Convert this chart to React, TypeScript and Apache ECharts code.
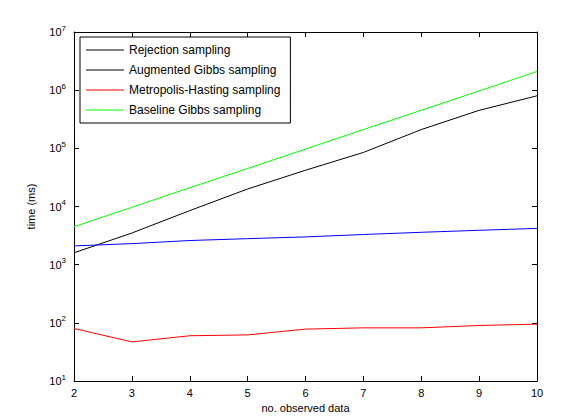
import React, { useEffect, useRef } from "react";
import * as echarts from "echarts";

const xCats = [2, 3, 4, 5, 6, 7, 8, 9, 10];
const rejection = [1600, 3500, 8500, 20000, 42000, 85000, 210000, 450000, 800000];
const augmented = [2100, 2300, 2600, 2800, 3000, 3300, 3600, 3900, 4200];
const metropolis = [80, 47, 60, 62, 78, 82, 82, 90, 95];
const baseline = [4500, 9700, 21000, 45000, 97000, 210000, 450000, 970000, 2100000];
const names = ["Rejection sampling", "Augmented Gibbs sampling", "Metropolis-Hasting sampling", "Baseline Gibbs sampling"];
const colors = ["#000000", "#0000ff", "#ff0000", "#00ff00"];
const legendColors = ["#000000", "#000000", "#ff0000", "#00ff00"];

const font = "Liberation Sans, Arial, sans-serif";

export default function App() {
  const ref = useRef<HTMLDivElement>(null);
  useEffect(() => {
    const chart = echarts.init(ref.current!, undefined, { renderer: "svg" });
    const datas = [rejection, augmented, metropolis, baseline];
    const axisCommon = {
      axisLine: { lineStyle: { color: "#000" } },
      axisTick: { inside: true, length: 5, lineStyle: { color: "#000" } },
      splitLine: { show: false },
    };
    const yLabel = (v: number) => "10{s|" + Math.round(Math.log10(v)) + "}";
    chart.setOption({
      animation: false,
      backgroundColor: "#fff",
      textStyle: { fontFamily: font },
      grid: { left: 74, right: 24, top: 32, bottom: 39 },
      legend: {
        left: 80, top: 37, orient: "vertical",
        backgroundColor: "#fff", borderColor: "#000", borderWidth: 1,
        padding: [6, 10, 6, 6], itemGap: 6, itemWidth: 38, itemHeight: 1,
        icon: "rect",
        textStyle: { fontSize: 12, color: "#000", fontFamily: font, lineHeight: 14 },
        data: names.map((n, i) => ({ name: n, itemStyle: { color: legendColors[i] }, lineStyle: { color: legendColors[i] } })),
      },
      xAxis: [
        {
          type: "value", min: 2, max: 10, interval: 1, ...axisCommon,
          name: "no. observed data", nameLocation: "middle", nameGap: 20,
          nameTextStyle: { fontSize: 11, color: "#000" },
          axisLabel: { fontSize: 11, color: "#000", margin: 6 },
        },
        { type: "value", min: 2, max: 10, interval: 1, position: "top", ...axisCommon, axisLabel: { show: false } },
      ],
      yAxis: [
        {
          type: "log", logBase: 10, min: 10, max: 1e7, ...axisCommon,
          name: "time (ms)", nameLocation: "middle", nameGap: 38,
          nameTextStyle: { fontSize: 11, color: "#000" },
          axisLabel: { formatter: yLabel, fontSize: 11, color: "#000", rich: { s: { fontSize: 8, verticalAlign: "top", padding: [0, 0, 8, 0] } } },
        },
        { type: "log", logBase: 10, min: 10, max: 1e7, position: "right", ...axisCommon, axisLabel: { show: false } },
      ],
      series: datas.map((d, i) => ({
        name: names[i], type: "line", showSymbol: false, symbol: "none",
        data: d.map((v, j) => [xCats[j], v]),
        lineStyle: { color: colors[i], width: 1 }, itemStyle: { color: colors[i] },
      })),
    });
    return () => chart.dispose();
  }, []);
  return <div ref={ref} style={{ position: "absolute", left: 0, top: 0, width: 561, height: 420 }} />;
}
